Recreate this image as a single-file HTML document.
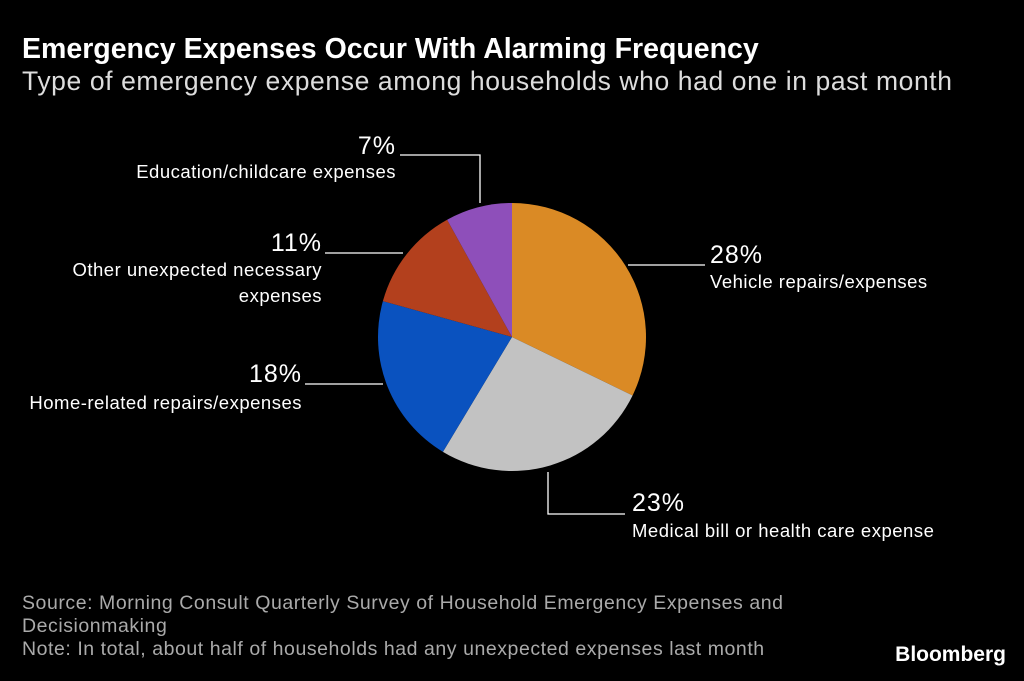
<!DOCTYPE html>
<html><head><meta charset="utf-8">
<style>
body{margin:0;background:#000;width:1024px;height:681px;overflow:hidden;font-family:"Liberation Sans",sans-serif;color:#fff;position:relative}
.t{position:absolute;white-space:nowrap}
</style></head>
<body>
<div class="t" style="left:22px;top:33px;font-size:28.5px;font-weight:bold">Emergency Expenses Occur With Alarming Frequency</div>
<div class="t" style="left:22px;top:66px;font-size:26.5px;letter-spacing:0.6px;color:#ddd">Type of emergency expense among households who had one in past month</div>
<svg id="pie" width="1024" height="681" style="position:absolute;left:0;top:0"></svg>
<div class="t" style="left:22px;top:592px;font-size:19.5px;letter-spacing:0.55px;color:#aaa;line-height:23px">Source: Morning Consult Quarterly Survey of Household Emergency Expenses and<br>Decisionmaking<br>Note: In total, about half of households had any unexpected expenses last month</div>
<div class="t" style="right:18px;top:643px;font-size:21px;font-weight:bold">Bloomberg</div>
<script>
const categories=["Vehicle repairs/expenses","Medical bill or health care expense","Home-related repairs/expenses","Other unexpected necessary expenses","Education/childcare expenses"];
const values=[28,23,18,11,7];
const colors=["#DA8A25","#C2C2C2","#0A52BF","#B3401D","#8E4FBA"];
const svg=document.getElementById('pie');
const NS="http://www.w3.org/2000/svg";
const cx=512,cy=337,r=134;
const total=values.reduce((a,b)=>a+b,0);
let a0=0;
values.forEach((v,i)=>{
  const a1=a0+v/total*2*Math.PI;
  const p=(a)=>[cx+r*Math.sin(a),cy-r*Math.cos(a)];
  const [x0,y0]=p(a0),[x1,y1]=p(a1);
  const path=document.createElementNS(NS,'path');
  path.setAttribute('d',`M${cx},${cy}L${x0},${y0}A${r},${r} 0 ${a1-a0>Math.PI?1:0} 1 ${x1},${y1}Z`);
  path.setAttribute('fill',colors[i]);
  
  
  svg.appendChild(path);
  a0=a1;
});
const lines=[
 [[628,265],[705,265]],
 [[548,472],[548,514],[625,514]],
 [[383,384],[305,384]],
 [[403,253],[325,253]],
 [[480,203],[480,155],[400,155]]
];
lines.forEach((pts,i)=>{
  const pl=document.createElementNS(NS,'polyline');
  pl.setAttribute('points',pts.map(p=>p.join(',')).join(' '));
  pl.setAttribute('fill','none');pl.setAttribute('stroke','#fff');pl.setAttribute('stroke-width','1.3');
  
  
  svg.appendChild(pl);
});
const labelPos=[[710,'start',[282]],[632,'start',[531]],[302,'end',[403]],[322,'end',[270,296]],[396,'end',[172]]];
const pctY=[263,511,382,251,154];
const wrapped=[[categories[0]],[categories[1]],[categories[2]],["Other unexpected necessary","expenses"],[categories[4]]];
values.forEach((v,i)=>{
  const [x,anchor,ys]=labelPos[i];
  const t=document.createElementNS(NS,'text');
  t.setAttribute('x',x);t.setAttribute('y',pctY[i]);t.setAttribute('text-anchor',anchor);
  t.setAttribute('fill','#fff');t.setAttribute('font-size','25');t.setAttribute('letter-spacing','1');t.setAttribute('font-family','Liberation Sans, sans-serif');
  t.textContent=v+'%';
  
  
  svg.appendChild(t);
  wrapped[i].forEach((line,j)=>{
    const c=document.createElementNS(NS,'text');
    c.setAttribute('x',x);c.setAttribute('y',ys[j]+6);c.setAttribute('text-anchor',anchor);
    c.setAttribute('fill','#fff');c.setAttribute('font-size','18.5');c.setAttribute('letter-spacing','0.5');c.setAttribute('font-family','Liberation Sans, sans-serif');
    c.textContent=line;
    
    
    svg.appendChild(c);
  });
});
</script>
</body></html>
